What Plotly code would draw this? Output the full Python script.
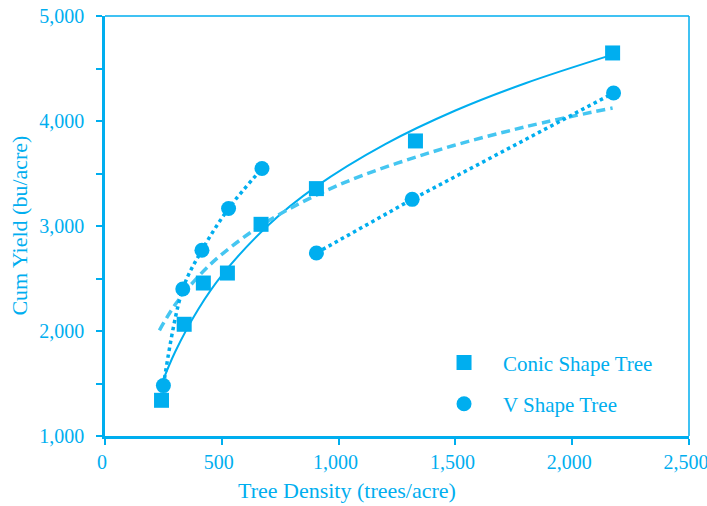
import plotly.graph_objects as go

# ---- data ----
conic_x = [242, 339, 421, 524, 668, 905, 1329, 2173]
conic_y = [1340, 2064, 2457, 2552, 3016, 3356, 3810, 4648]

v_x = [250, 333, 415, 529, 672, 905, 1315, 2177]
v_y = [1480, 2400, 2769, 3166, 3547, 2743, 3254, 4267]

# trend curves
conic_trend_x = [245, 300, 400, 500, 700, 900, 1200, 1500, 1800, 2170]
conic_trend_y = [1510, 1800, 2210, 2530, 3010, 3370, 3780, 4100, 4360, 4630]

v_trend_x = [233, 300, 400, 500, 700, 1000, 1400, 1800, 2173]
v_trend_y = [2007, 2250, 2520, 2730, 3050, 3390, 3705, 3945, 4124]

x_ticks = [0, 500, 1000, 1500, 2000, 2500]
y_ticks = [1000, 2000, 3000, 4000, 5000]

BLUE = "#00AEEF"
LIGHT = "#45C6F1"
FONT = "Liberation Serif"

fig = go.Figure()

fig.add_trace(go.Scatter(x=conic_trend_x, y=conic_trend_y, mode="lines",
                         line=dict(color=BLUE, width=2, shape="spline"),
                         showlegend=False, hoverinfo="skip"))
fig.add_trace(go.Scatter(x=v_trend_x, y=v_trend_y, mode="lines",
                         line=dict(color=LIGHT, width=3.5, dash="9px,5px", shape="spline"),
                         showlegend=False, hoverinfo="skip"))
fig.add_trace(go.Scatter(x=v_x[:5], y=v_y[:5], mode="lines",
                         line=dict(color=BLUE, width=3.5, dash="dot", shape="spline"),
                         showlegend=False, hoverinfo="skip"))
fig.add_trace(go.Scatter(x=v_x[5:], y=v_y[5:], mode="lines",
                         line=dict(color=BLUE, width=3.5, dash="dot"),
                         showlegend=False, hoverinfo="skip"))

fig.add_trace(go.Scatter(x=conic_x, y=conic_y, mode="markers", name="Conic Shape Tree",
                         marker=dict(symbol="square", size=15, color=BLUE),
                         legendgroup="a"))
fig.add_trace(go.Scatter(x=v_x, y=v_y, mode="markers", name="V Shape Tree",
                         marker=dict(symbol="circle", size=15, color=BLUE),
                         legendgroup="b"))

tickfont = dict(family=FONT, size=20, color=BLUE)

fig.update_layout(
    width=707, height=506,
    margin=dict(l=105, r=18, t=16, b=70, autoexpand=False),
    paper_bgcolor="white", plot_bgcolor="white",
    font=dict(family=FONT, color=BLUE),
    xaxis=dict(range=[0, 2500], tickvals=x_ticks, tickformat=",", automargin=False,
               ticklabeloverflow="allow", ticklabelshift=-3,
               showgrid=False, zeroline=False, showline=True, linecolor=BLUE, linewidth=2.5,
               ticks="outside", ticklen=6, tickwidth=1.5, tickcolor=BLUE,
               tickfont=tickfont),
    yaxis=dict(range=[1000, 5000], tickvals=y_ticks, tickformat=",", automargin=False,
               ticklabeloverflow="allow",
               showgrid=False, zeroline=False, showline=True, linecolor=BLUE, linewidth=2.5,
               ticks="outside", ticklen=6, tickwidth=1.5, tickcolor=BLUE,
               minor=dict(dtick=500, ticks="outside", ticklen=6, tickwidth=1.5, tickcolor=BLUE),
               tickfont=tickfont, ticklabelstandoff=8),
    legend=dict(x=0.548, y=0.223, xanchor="left", yanchor="top",
                font=dict(family=FONT, size=21, color=BLUE),
                bgcolor="rgba(0,0,0,0)", tracegroupgap=11, itemwidth=68),
    shapes=[
        dict(type="line", xref="paper", yref="paper", x0=0, x1=1, y0=1, y1=1,
             line=dict(color=BLUE, width=1.5)),
        dict(type="line", xref="paper", yref="paper", x0=1, x1=1, y0=0, y1=1,
             line=dict(color=BLUE, width=1.5)),
    ],
    annotations=[
        dict(text="Tree Density (trees/acre)", xref="paper", yref="paper",
             x=0.415, y=-0.129, xanchor="center", yanchor="middle", showarrow=False,
             font=dict(family=FONT, size=22, color=BLUE)),
        dict(text="Cum Yield (bu/acre)", xref="paper", yref="paper",
             x=-0.148, y=0.5, xanchor="center", yanchor="middle", showarrow=False,
             textangle=-90, font=dict(family=FONT, size=22, color=BLUE)),
    ],
)

fig.write_html("out.html", config={"displayModeBar": False},
               post_script="document.body.style.margin='0px'; document.body.style.overflow='hidden';")
